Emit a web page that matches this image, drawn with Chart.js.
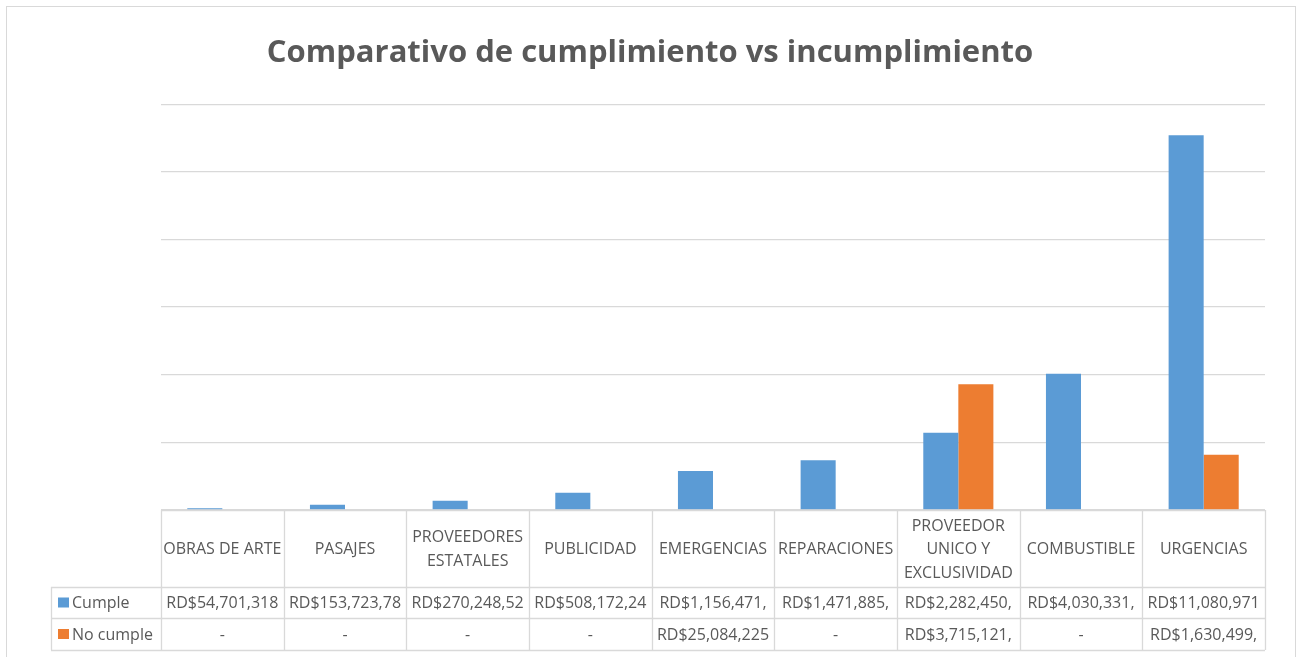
<!DOCTYPE html>
<html>
<head>
<meta charset="utf-8">
<title>Comparativo de cumplimiento vs incumplimiento</title>
<script src="https://cdn.jsdelivr.net/npm/chart.js@4.4.1/dist/chart.umd.min.js"></script>
<style>
  html, body { margin: 0; padding: 0; background: #fff; }
  canvas { display: block; }
</style>
</head>
<body>
<canvas id="chart" width="1300" height="657"></canvas>
<script>
// categories (multi-line labels as shown in the data table)
const categories = [
    ['OBRAS DE ARTE'],
    ['PASAJES'],
    ['PROVEEDORES', 'ESTATALES'],
    ['PUBLICIDAD'],
    ['EMERGENCIAS'],
    ['REPARACIONES'],
    ['PROVEEDOR', 'UNICO Y', 'EXCLUSIVIDAD'],
    ['COMBUSTIBLE'],
    ['URGENCIAS']
];

// values in RD$ (digits cut off in the table are estimated)
const cumple = [54701318, 153723780, 270248520, 508172240, 1156471000, 1471885000, 2282450000, 4030331000, 11080971000];
const noCumple = [null, null, null, null, 25084225, null, 3715121000, null, 1630499000];

// table text as printed in the reference
const cumpleText = ['RD$54,701,318', 'RD$153,723,78', 'RD$270,248,52', 'RD$508,172,24', 'RD$1,156,471,', 'RD$1,471,885,', 'RD$2,282,450,', 'RD$4,030,331,', 'RD$11,080,971'];
const noCumpleText = ['-', '-', '-', '-', 'RD$25,084,225', '-', 'RD$3,715,121,', '-', 'RD$1,630,499,'];

const seriesNames = ['Cumple', 'No cumple'];
const seriesColors = ['#5B9BD5', '#ED7D31'];

const yMax = 12000000000;
const yStep = 2000000000;

const textColor = '#595959';
const lineColor = '#D9D9D9';
const tableFont = '16px "Open Sans"';

// frame + data table under the plot
const tablePlugin = {
    id: 'dataTable',
    afterDraw(chart) {
        const ctx = chart.ctx;
        const area = chart.chartArea;
        const xs = chart.scales.x;
        const colW = (area.right - area.left) / categories.length;
        const left = 51;
        const top = area.bottom;
        const rowH = [77, 31, 32];
        const y1 = top + rowH[0];
        const y2 = y1 + rowH[1];
        const y3 = y2 + rowH[2];

        ctx.save();
        // outer frame
        ctx.strokeStyle = lineColor;
        ctx.lineWidth = 1;
        ctx.strokeRect(6.5, 6.5, 1289, 700);

        // table lines
        ctx.lineWidth = 1.3;
        ctx.beginPath();
        ctx.moveTo(area.left, top + 0.5); ctx.lineTo(area.right, top + 0.5);
        [y1, y2, y3].forEach(y => { ctx.moveTo(left, y + 0.5); ctx.lineTo(area.right, y + 0.5); });
        ctx.moveTo(left + 0.5, y1); ctx.lineTo(left + 0.5, y3);
        for (let k = 0; k <= categories.length; k++) {
            const x = Math.round(area.left + k * colW) + 0.5;
            ctx.moveTo(x, top); ctx.lineTo(x, y3);
        }
        ctx.stroke();

        ctx.fillStyle = textColor;
        ctx.font = tableFont;
        ctx.textAlign = 'center';
        ctx.textBaseline = 'middle';

        categories.forEach((lines, i) => {
            const cx = xs.getPixelForValue(i);
            const lh = 23.5;
            const startY = top + rowH[0] / 2 + 1 - (lines.length - 1) * lh / 2;
            lines.forEach((t, j) => ctx.fillText(t, cx, startY + j * lh));

            // value cells, clipped to the cell like the reference
            [[cumpleText[i], y1, rowH[1]], [noCumpleText[i], y2, rowH[2]]].forEach(([t, y, h]) => {
                ctx.save();
                ctx.beginPath();
                ctx.rect(cx - colW / 2 + 2, y, colW - 4, h);
                ctx.clip();
                ctx.fillText(t, cx, y + h / 2 + 1);
                ctx.restore();
            });
        });

        // legend keys in the first column
        ctx.textAlign = 'left';
        [[y1, rowH[1]], [y2, rowH[2]]].forEach(([y, h], s) => {
            ctx.fillStyle = seriesColors[s];
            ctx.fillRect(58, y + h / 2 - 5, 11, 10);
            ctx.fillStyle = textColor;
            ctx.fillText(seriesNames[s], 72, y + h / 2 + 1);
        });
        ctx.restore();
    }
};

new Chart(document.getElementById('chart'), {
    type: 'bar',
    data: {
        labels: categories,
        datasets: [
            { label: seriesNames[0], data: cumple, backgroundColor: seriesColors[0] },
            { label: seriesNames[1], data: noCumple, backgroundColor: seriesColors[1] }
        ]
    },
    options: {
        responsive: false,
        animation: false,
        devicePixelRatio: 1,
        categoryPercentage: 2 / 3.5,
        barPercentage: 1,
        layout: { padding: { left: 35, right: 35, top: 0, bottom: 147 } },
        plugins: {
            legend: { display: false },
            tooltip: { enabled: false },
            title: {
                display: true,
                text: 'Comparativo de cumplimiento vs incumplimiento',
                color: textColor,
                font: { family: 'Open Sans', size: 31, weight: 'bold' },
                padding: { top: 35, bottom: 32 }
            }
        },
        scales: {
            x: { display: false },
            y: {
                min: 0,
                max: yMax,
                ticks: { display: false, stepSize: yStep },
                border: { display: false },
                grid: { color: lineColor, lineWidth: 1.3, drawTicks: false },
                afterFit(scale) { scale.width = 126; }
            }
        }
    },
    plugins: [tablePlugin]
});
</script>
</body>
</html>
